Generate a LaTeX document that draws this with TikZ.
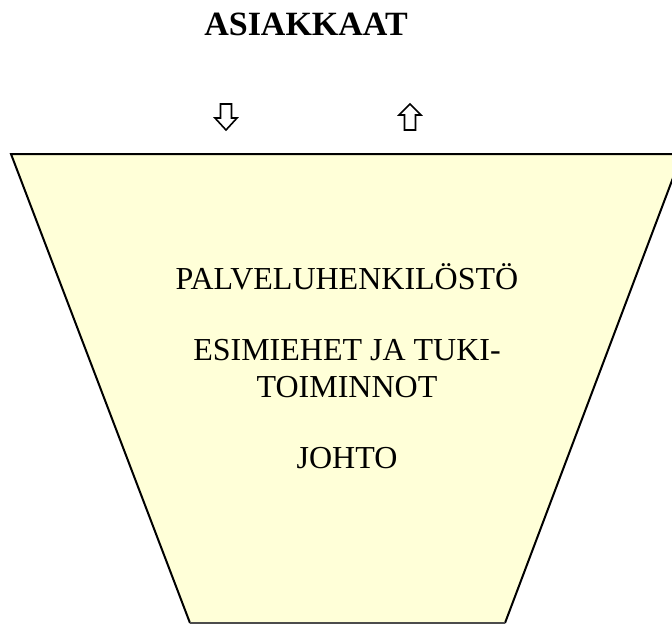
\documentclass[tikz,border=0pt]{standalone}
\usepackage{fontspec}
\setmainfont{Liberation Serif}
\usetikzlibrary{calc}
\definecolor{funnelfill}{RGB}{255,255,216}
\tikzset{
  rowtext/.style={anchor=base, font=\fontsize{32}{38}\selectfont},
  whitearrow/.style={line width=1.6pt, line join=miter, fill=white}
}

\begin{document}
\begin{tikzpicture}[x=1pt,y=-1pt]
  \useasboundingbox (0,0) rectangle (672,625);

  % 坐标点定义
  \coordinate (A) at (11,154);
  \coordinate (B) at (682,154);
  \coordinate (C) at (505,623);
  \coordinate (D) at (190,623);

  % 梯形
  \begin{scope}
    \clip (0,0) rectangle (672,625);
    \fill[funnelfill] (A) -- (B) -- (C) -- (D) -- cycle;
    \draw[line width=2pt] (D) -- (A) -- (B) -- (C);
    \draw[line width=1.6pt, black!70] (C) -- (D);
  \end{scope}

  % 箭头
  \draw[whitearrow] (220.5,104) -- (231.5,104) -- (231.5,118) -- (237,118)
    -- (226,130) -- (215,118) -- (220.5,118) -- cycle;
  \draw[whitearrow] (410,104) -- (421,115) -- (415.5,115) -- (415.5,130)
    -- (404.5,130) -- (404.5,115) -- (399,115) -- cycle;

  % 文字
  \node[anchor=base, font=\bfseries\fontsize{34}{40}\selectfont] (asiakkaat) at (306,35) {ASIAKKAAT};
  \node[rowtext] (palvelu) at (347,289) {PALVELUHENKILÖSTÖ};
  \node[rowtext] (esimiehet) at (347,360) {ESIMIEHET JA TUKI-};
  \node[rowtext] (toiminnot) at (347,397) {TOIMINNOT};
  \node[rowtext] (johto) at (347,468) {JOHTO};
\end{tikzpicture}
\end{document}
